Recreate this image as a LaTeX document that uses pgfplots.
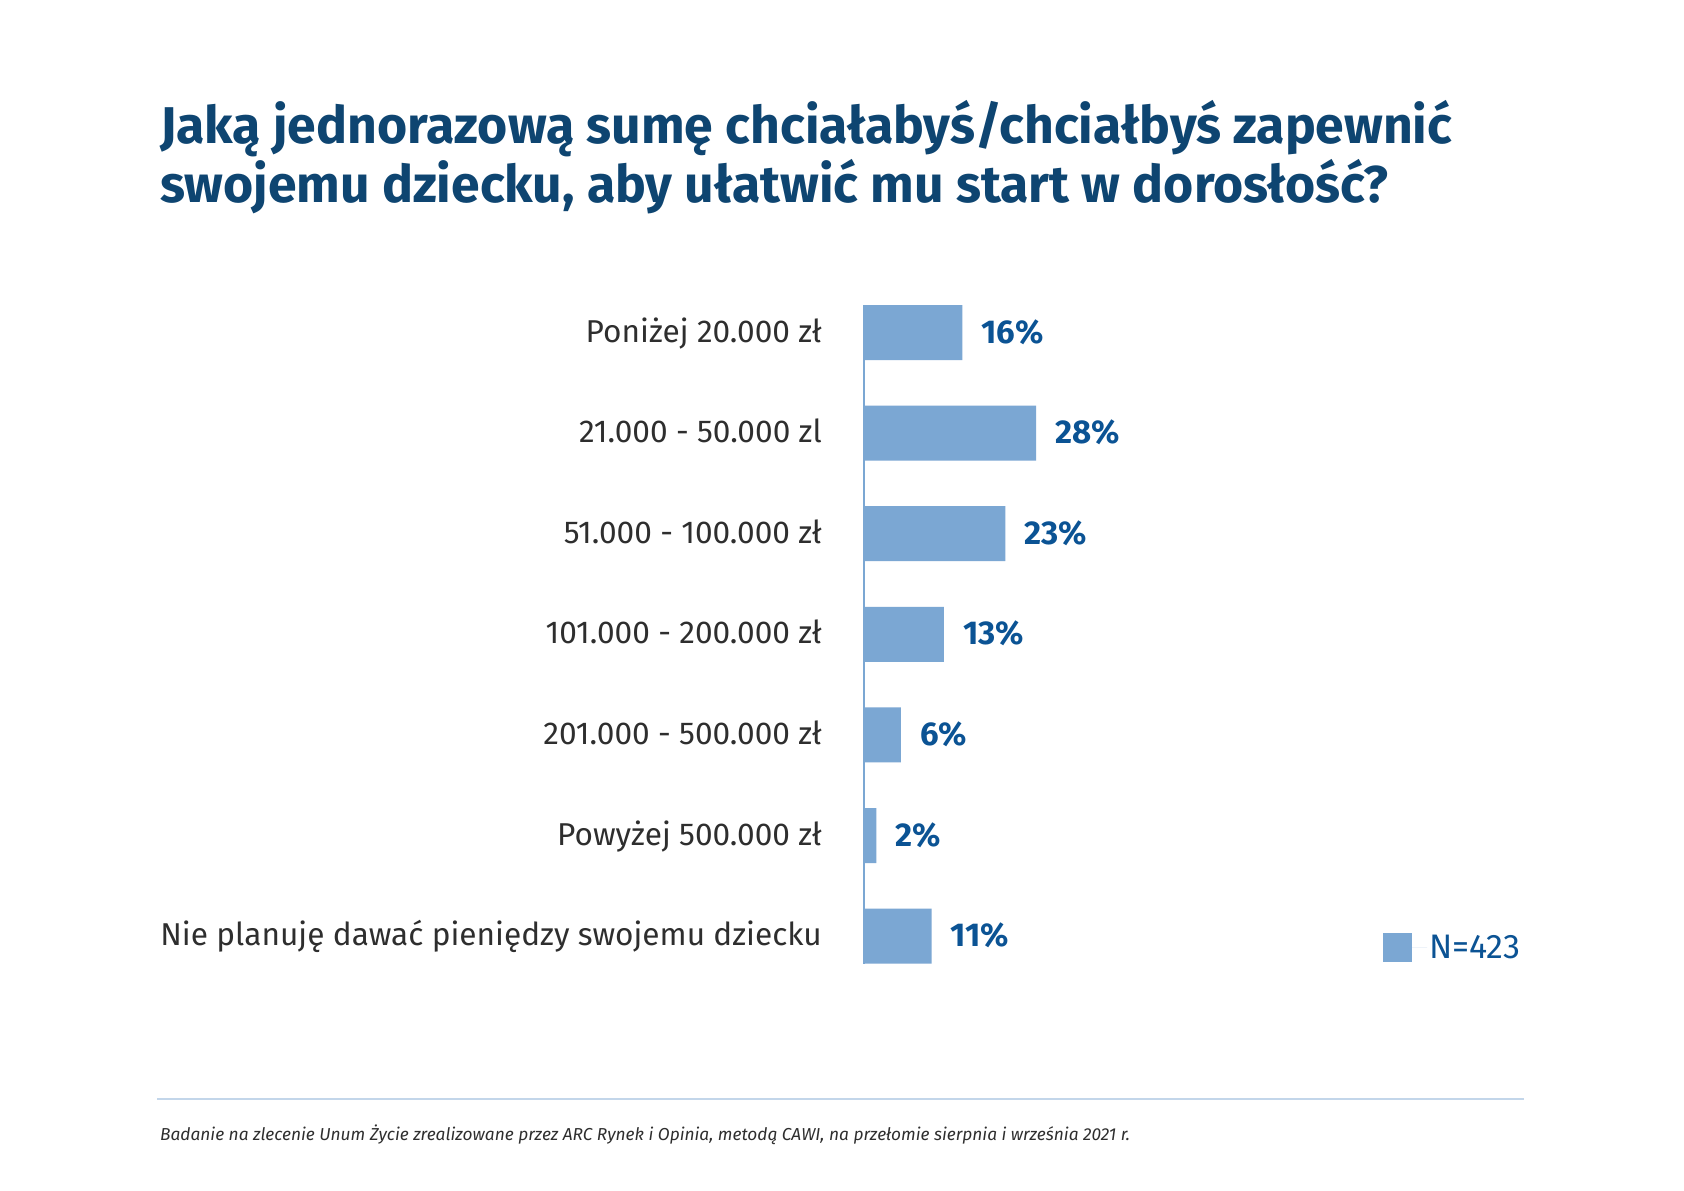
\documentclass[border=0pt]{standalone}
\usepackage{fontspec}
\setmainfont{Fira Sans}
\usepackage{pgfplots}
\pgfplotsset{compat=1.18}
\definecolor{barblue}{HTML}{7BA7D3}
\definecolor{titleblue}{HTML}{0E4571}
\definecolor{valblue}{HTML}{0B5394}
\definecolor{labgray}{HTML}{2E2E2E}
\definecolor{rulecol}{HTML}{C3D6EA}
\begin{document}
\begin{tikzpicture}[x=1pt,y=-1pt]
\fill[white] (0,0) rectangle (1684,1191);
\node[anchor=base west, inner sep=0pt, text=titleblue, font=\fontsize{51.7}{59}\selectfont\bfseries] at (160,143) {Jaką jednorazową sumę chciałabyś/chciałbyś zapewnić};
\node[anchor=base west, inner sep=0pt, text=titleblue, font=\fontsize{51.7}{59}\selectfont\bfseries] at (160,202.5) {swojemu dziecku, aby ułatwić mu start w dorosłość?};
\begin{axis}[
  at={(864pt,-305pt)}, anchor=north west,
  scale only axis, width=615pt, height=658.6pt,
  xbar, bar width=55pt,
  xmin=0, xmax=100, ymin=-0.2734, ymax=6.2734,
  y dir=reverse,
  ytick={0,...,6},
  yticklabels={Poniżej 20.000 zł, 21.000 - 50.000 zl, 51.000 - 100.000 zł, 101.000 - 200.000 zł, 201.000 - 500.000 zł, Powyżej 500.000 zł, Nie planuję dawać pieniędzy swojemu dziecku},
  axis x line=none, axis y line=left,
  y axis line style={-, draw=barblue, line width=2pt},
  major tick length=0pt,
  yticklabel style={anchor=base east, inner sep=0pt, xshift=-42pt, yshift=-9.5pt, font=\fontsize{31.6}{38}\selectfont, text=labgray},
  /pgf/number format/assume math mode=true,
  nodes near coords={\pgfmathprintnumber{\pgfplotspointmeta}\%},
  every node near coord/.append style={anchor=base west, inner sep=0pt, xshift=19pt, yshift=-10.5pt, font=\fontsize{33}{38}\selectfont\bfseries, text=valblue},
  legend style={at={(0.8439,0.0245)}, anchor=west, draw=none, fill=none, inner sep=0pt, font=\fontsize{34}{38}\selectfont, text=valblue},
  legend image code/.code={\fill[barblue] (0pt,-14.5pt) rectangle (29pt,14.5pt);\path (0pt,0pt) -- (44pt,0pt);},
]
\addplot[fill=barblue, draw=none] coordinates {(16,0) (28,1) (23,2) (13,3) (6,4) (2,5) (11,6)};
\addlegendentry{N=423}
\end{axis}
\draw[rulecol, line width=2pt] (157,1099) -- (1524,1099);
\node[anchor=base west, inner sep=0pt, text=labgray, font=\fontsize{17.3}{21}\selectfont\itshape] at (160,1140) {Badanie na zlecenie Unum Życie zrealizowane przez ARC Rynek i Opinia, metodą CAWI, na przełomie sierpnia i września 2021 r.};
\end{tikzpicture}
\end{document}
